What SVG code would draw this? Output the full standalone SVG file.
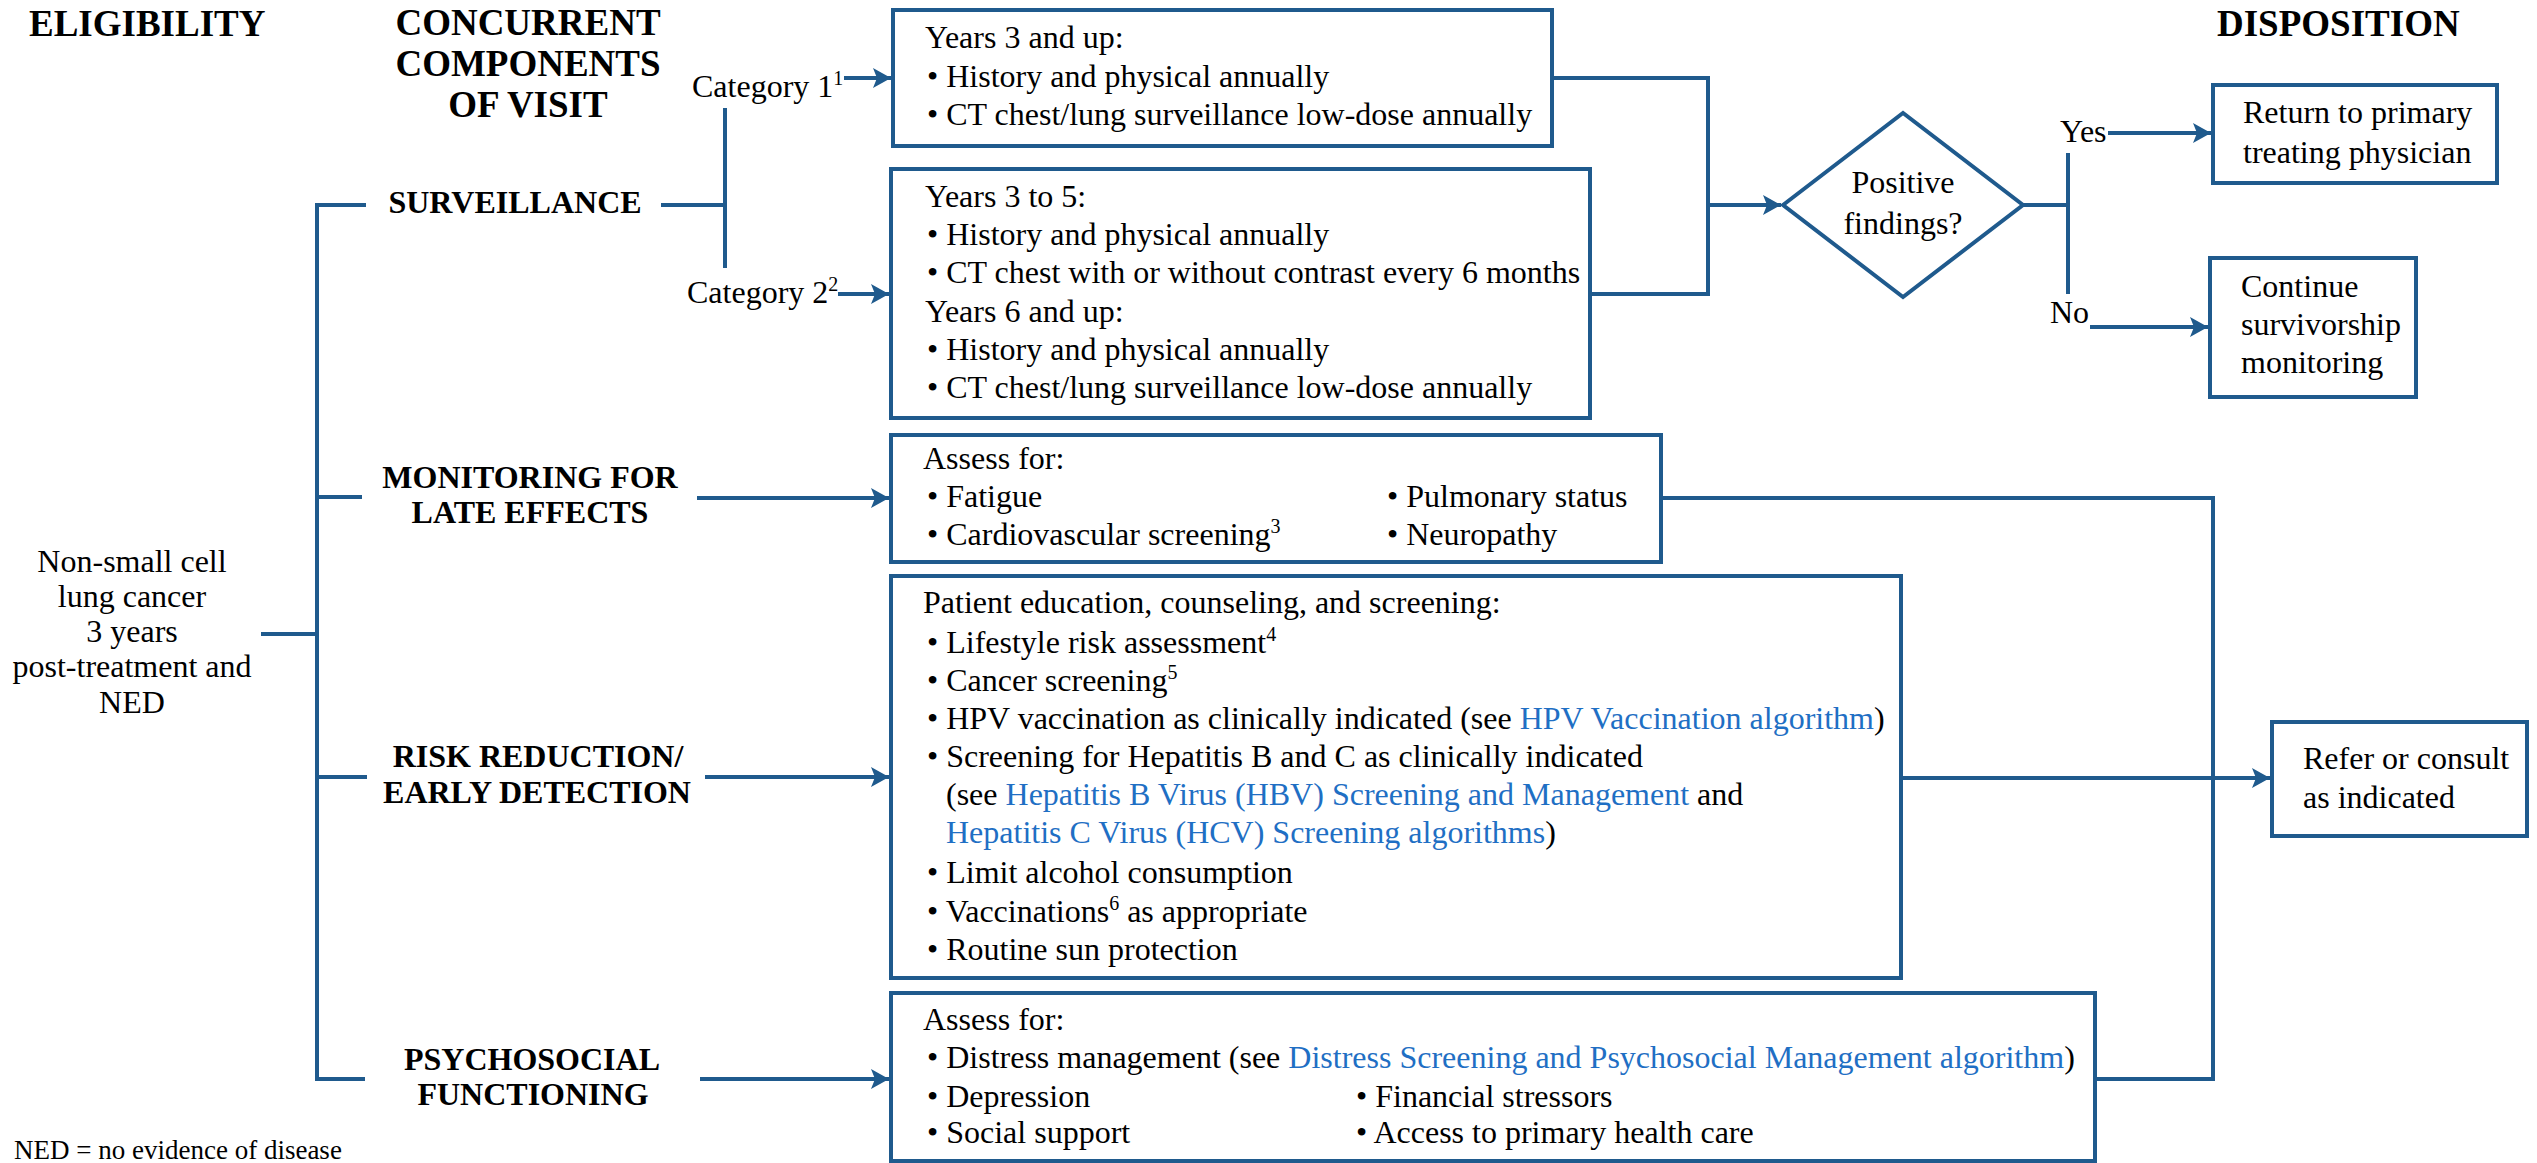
<svg xmlns="http://www.w3.org/2000/svg" width="2537" height="1163" viewBox="0 0 2537 1163">
<defs>
<style>
text{font-family:"Liberation Serif","Times New Roman",serif;font-size:32px;fill:#000}
.h{font-weight:bold;font-size:37px}
.c{font-weight:bold;font-size:32px}
.m{text-anchor:middle}
.lk{fill:#1f6fc4}
.box{fill:#fff;stroke:#1f5a8d;stroke-width:4}
.ln{fill:none;stroke:#1f5a8d;stroke-width:4}
.ar{fill:none;stroke:#1f5a8d;stroke-width:4;marker-end:url(#ah)}
.fn{font-size:27px}
</style>
<marker id="ah" markerUnits="userSpaceOnUse" markerWidth="20" markerHeight="22" refX="18" refY="11" orient="auto">
<path d="M0,1 L18,11 L0,21 L4,11 z" fill="#1f5a8d"/>
</marker>
</defs>
<rect width="2537" height="1163" fill="#fff"/>

<g id="headers">
<text class="h" x="29" y="36">ELIGIBILITY</text>
<text class="h m" x="528" y="35">CONCURRENT</text>
<text class="h m" x="528" y="76">COMPONENTS</text>
<text class="h m" x="528" y="117">OF VISIT</text>
<text class="h" x="2217" y="36">DISPOSITION</text>
</g>

<g id="connectors">
<path class="ln" d="M261,634 H317"/>
<path class="ln" d="M366,205 H317 V1079 H365"/>
<path class="ln" d="M317,497 H362"/>
<path class="ln" d="M317,777 H367"/>
<path class="ln" d="M661,205 H725"/>
<path class="ln" d="M725,108 V268"/>
<path class="ar" d="M844,78 H891"/>
<path class="ar" d="M838,294 H889"/>
<path class="ar" d="M697,498 H889"/>
<path class="ar" d="M705,777 H889"/>
<path class="ar" d="M700,1079 H889"/>
<path class="ln" d="M1552,78 H1708 V294 H1590"/>
<path class="ar" d="M1708,205 H1781"/>
<path class="ln" d="M2023,205 H2068"/>
<path class="ln" d="M2068,153 V294"/>
<path class="ar" d="M2108,133 H2211"/>
<path class="ar" d="M2090,327 H2208"/>
<path class="ln" d="M1661,498 H2213 V1079 H2095"/>
<path class="ar" d="M1901,778 H2270"/>
</g>

<g id="eligibility">
<text class="m" x="132" y="572">Non-small cell</text>
<text class="m" x="132" y="607">lung cancer</text>
<text class="m" x="132" y="642">3 years</text>
<text class="m" x="132" y="677">post-treatment and</text>
<text class="m" x="132" y="713">NED</text>
</g>

<g id="surveillance">
<text class="c m" x="515" y="213">SURVEILLANCE</text>
</g>
<g id="monitoring">
<text class="c m" x="530" y="488">MONITORING FOR</text>
<text class="c m" x="530" y="523">LATE EFFECTS</text>
</g>
<g id="risk">
<text class="c m" x="538" y="767">RISK REDUCTION/</text>
<text class="c m" x="537" y="803">EARLY DETECTION</text>
</g>
<g id="psychosocial">
<text class="c m" x="532" y="1070">PSYCHOSOCIAL</text>
<text class="c m" x="533" y="1105">FUNCTIONING</text>
</g>

<g id="cat1"><text x="692" y="97">Category 1<tspan font-size="20" dy="-12">1</tspan></text></g>
<g id="cat2"><text x="687" y="303">Category 2<tspan font-size="20" dy="-12">2</tspan></text></g>

<g id="box-cat1">
<rect class="box" x="893" y="10" width="659" height="136"/>
<text x="925" y="48">Years 3 and up:</text>
<text x="927" y="87">• History and physical annually</text>
<text x="927" y="125">• CT chest/lung surveillance low-dose annually</text>
</g>

<g id="box-cat2">
<rect class="box" x="891" y="169" width="699" height="249"/>
<text x="925" y="207">Years 3 to 5:</text>
<text x="927" y="245">• History and physical annually</text>
<text x="927" y="283">• CT chest with or without contrast every 6 months</text>
<text x="925" y="322">Years 6 and up:</text>
<text x="927" y="360">• History and physical annually</text>
<text x="927" y="398">• CT chest/lung surveillance low-dose annually</text>
</g>

<g id="box-monitoring">
<rect class="box" x="891" y="435" width="770" height="127"/>
<text x="923" y="469">Assess for:</text>
<text x="927" y="507">• Fatigue</text>
<text x="927" y="545">• Cardiovascular screening<tspan font-size="20" dy="-12">3</tspan></text>
<text x="1387" y="507">• Pulmonary status</text>
<text x="1387" y="545">• Neuropathy</text>
</g>

<g id="box-risk">
<rect class="box" x="891" y="576" width="1010" height="402"/>
<text x="923" y="613">Patient education, counseling, and screening:</text>
<text x="927" y="653">• Lifestyle risk assessment<tspan font-size="20" dy="-12">4</tspan></text>
<text x="927" y="691">• Cancer screening<tspan font-size="20" dy="-12">5</tspan></text>
<text x="927" y="729">• HPV vaccination as clinically indicated (see <tspan class="lk">HPV Vaccination algorithm</tspan>)</text>
<text x="927" y="767">• Screening for Hepatitis B and C as clinically indicated</text>
<text x="946" y="805">(see <tspan class="lk">Hepatitis B Virus (HBV) Screening and Management</tspan> and</text>
<text x="946" y="843"><tspan class="lk">Hepatitis C Virus (HCV) Screening algorithms</tspan>)</text>
<text x="927" y="883">• Limit alcohol consumption</text>
<text x="927" y="922">• Vaccinations<tspan font-size="20" dy="-12">6</tspan><tspan dy="12"> as appropriate</tspan></text>
<text x="927" y="960">• Routine sun protection</text>
</g>

<g id="box-psychosocial">
<rect class="box" x="891" y="993" width="1204" height="168"/>
<text x="923" y="1030">Assess for:</text>
<text x="927" y="1068">• Distress management (see <tspan class="lk">Distress Screening and Psychosocial Management algorithm</tspan>)</text>
<text x="927" y="1107">• Depression</text>
<text x="927" y="1143">• Social support</text>
<text x="1356" y="1107">• Financial stressors</text>
<text x="1356" y="1143">• Access to primary health care</text>
</g>

<g id="decision">
<polygon class="box" points="1783,205 1903,113 2023,205 1903,297"/>
<text class="m" x="1903" y="193">Positive</text>
<text class="m" x="1903" y="234">findings?</text>
</g>
<g id="label-yes"><text x="2060" y="142">Yes</text></g>
<g id="label-no"><text x="2050" y="323">No</text></g>

<g id="box-return">
<rect class="box" x="2213" y="85" width="284" height="98"/>
<text x="2243" y="123">Return to primary</text>
<text x="2243" y="163">treating physician</text>
</g>

<g id="box-continue">
<rect class="box" x="2210" y="258" width="206" height="139"/>
<text x="2241" y="297">Continue</text>
<text x="2241" y="335">survivorship</text>
<text x="2241" y="373">monitoring</text>
</g>

<g id="box-refer">
<rect class="box" x="2272" y="722" width="255" height="114"/>
<text x="2303" y="769">Refer or consult</text>
<text x="2303" y="808">as indicated</text>
</g>

<g id="footnote">
<text class="fn" x="14" y="1159">NED = no evidence of disease</text>
</g>
</svg>
